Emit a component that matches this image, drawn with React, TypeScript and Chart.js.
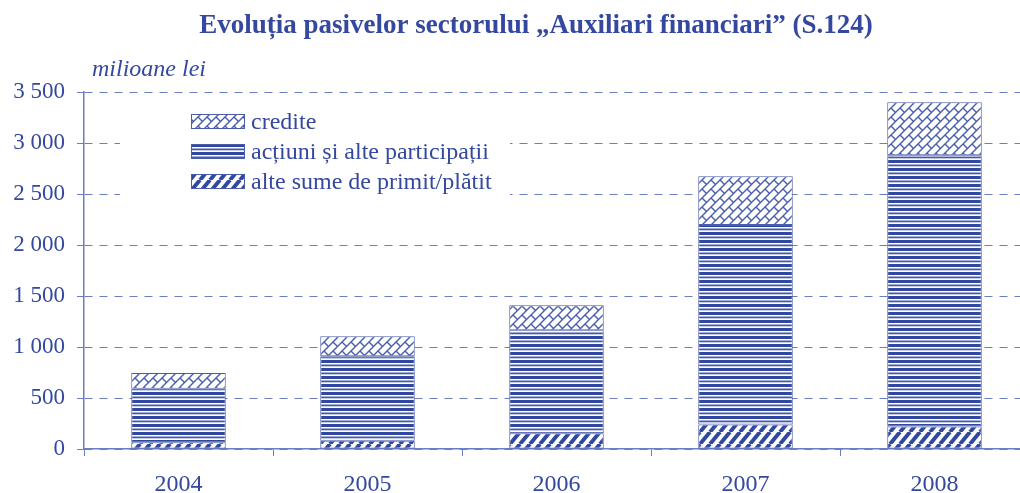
import React, { useEffect, useRef } from 'react';
import { Chart, registerables } from 'chart.js';

Chart.register(...registerables);

const categories = ['2004', '2005', '2006', '2007', '2008'];
const alteSume = [65, 80, 155, 240, 220];
const actiuni = [525, 830, 1010, 1956, 2660];
const credite = [155, 195, 245, 479, 520];
const seriesLabels = ['alte sume de primit/plătit', 'acțiuni și alte participații', 'credite'];
const yTicks = [0, 500, 1000, 1500, 2000, 2500, 3000, 3500];
const titleText = 'Evoluția pasivelor sectorului „Auxiliari financiari” (S.124)';
const unitText = 'milioane lei';

const BLUE = '#3148a0';
const TEXT = '#34489f';
const LINE = '#6d7dc2';
const SERIF = '"Liberation Serif", "Times New Roman", serif';

function makeCanvas(w: number, h: number) {
  const c = document.createElement('canvas');
  c.width = w;
  c.height = h;
  return c;
}

function stripesPattern(ctx: CanvasRenderingContext2D) {
  const c = makeCanvas(8, 8);
  const g = c.getContext('2d')!;
  g.fillStyle = '#ffffff';
  g.fillRect(0, 0, 8, 8);
  g.fillStyle = BLUE;
  g.fillRect(0, 0, 8, 3);
  g.fillStyle = '#4658aa';
  g.fillRect(0, 4.5, 8, 1.8);
  return ctx.createPattern(c, 'repeat')!;
}

function diagPattern(ctx: CanvasRenderingContext2D) {
  const w = 10, h = 12;
  const c = makeCanvas(w, h);
  const g = c.getContext('2d')!;
  g.fillStyle = '#ffffff';
  g.fillRect(0, 0, w, h);
  g.strokeStyle = BLUE;
  g.lineWidth = 4;
  for (let k = -2; k <= 2; k++) {
    g.beginPath();
    g.moveTo(k * w, h);
    g.lineTo(k * w + w, 0);
    g.stroke();
  }
  return ctx.createPattern(c, 'repeat')!;
}

function brickPattern(ctx: CanvasRenderingContext2D) {
  const T = 18;
  const c = makeCanvas(T, T);
  const g = c.getContext('2d')!;
  g.fillStyle = '#ffffff';
  g.fillRect(0, 0, T, T);
  g.strokeStyle = '#4a5eb0';
  g.lineWidth = 1.4;
  for (let k = -6; k <= 8; k++) {
    const cc = (k * T) / 2;
    g.beginPath();
    g.moveTo(cc + 40, -40);
    g.lineTo(-40, cc + 40);
    g.stroke();
  }
  for (let k = -6; k <= 8; k++) {
    const c0 = (k * T) / 2;
    const c1 = ((k + 1) * T) / 2;
    const off = ((k % 2) + 2) % 2 === 0 ? 0 : T / 2;
    for (let m = -4; m <= 4; m++) {
      const d = off + m * T;
      g.beginPath();
      g.moveTo((c0 + d) / 2, (c0 - d) / 2);
      g.lineTo((c1 + d) / 2, (c1 - d) / 2);
      g.stroke();
    }
  }
  return ctx.createPattern(c, 'repeat')!;
}

function fmt(v: number) {
  if (v >= 1000) {
    return `${Math.floor(v / 1000)} ${String(v % 1000).padStart(3, '0')}`;
  }
  return String(v);
}

export default function App() {
  const ref = useRef<HTMLCanvasElement | null>(null);

  useEffect(() => {
    const canvas = ref.current!;
    const ctx = canvas.getContext('2d')!;
    const patterns = [diagPattern(ctx), stripesPattern(ctx), brickPattern(ctx)];
    const values = [alteSume, actiuni, credite];

    const overlay = {
      id: 'overlay',
      afterDraw(chart: any) {
        const c = chart.ctx as CanvasRenderingContext2D;
        c.save();
        c.fillStyle = TEXT;
        c.font = `bold 27px ${SERIF}`;
        c.textAlign = 'center';
        c.textBaseline = 'alphabetic';
        c.fillText(titleText, 536, 33);
        c.font = `italic 24px ${SERIF}`;
        c.textAlign = 'left';
        c.fillText(unitText, 92, 76);
        // legend
        c.fillStyle = '#ffffff';
        c.fillRect(120, 100, 390, 105);
        const ds = chart.data.datasets;
        for (let i = 0; i < ds.length; i++) {
          const d = ds[ds.length - 1 - i];
          const y = 114 + i * 30;
          c.fillStyle = d.backgroundColor;
          c.fillRect(191, y, 54, 15);
          c.strokeStyle = '#4a5cab';
          c.lineWidth = 1;
          c.strokeRect(191.5, y + 0.5, 53, 14);
          c.fillStyle = TEXT;
          c.font = `24px ${SERIF}`;
          c.textAlign = 'left';
          c.textBaseline = 'alphabetic';
          c.fillText(d.label, 251, y + 15);
        }
        c.restore();
      },
    };

    const chart = new Chart(ctx, {
      type: 'bar',
      data: {
        labels: categories,
        datasets: values.map((v, i) => ({
          label: seriesLabels[i],
          data: v,
          backgroundColor: patterns[i] as any,
          borderColor: '#4a5cab',
          borderWidth: 1,
          borderSkipped: false,
          barPercentage: 0.5,
          categoryPercentage: 1,
        })),
      },
      options: {
        responsive: false,
        animation: false,
        layout: { padding: { top: 92, right: 11, bottom: 0, left: 0 } },
        plugins: {
          legend: { display: false },
          title: { display: false },
          tooltip: { enabled: false },
        },
        scales: {
          x: {
            stacked: true,
            offset: true,
            grid: {
              display: true,
              drawOnChartArea: false,
              drawTicks: true,
              tickLength: 7,
              color: LINE,
              offset: true,
            },
            border: { display: true, color: LINE, width: 1.5 },
            ticks: {
              color: TEXT,
              font: { family: SERIF, size: 24 },
              padding: 14,
              maxRotation: 0,
            },
            afterFit(scale: any) {
              scale.height = 44;
            },
          },
          y: {
            stacked: true,
            min: 0,
            max: 3500,
            afterBuildTicks(scale: any) {
              scale.ticks = yTicks.map((v) => ({ value: v }));
            },
            grid: {
              color: LINE,
              lineWidth: 1,
              tickBorderDash: [],
              tickLength: 7,
              drawTicks: true,
            },
            border: { display: true, color: LINE, width: 1.5, dash: [8, 7] },
            ticks: {
              color: TEXT,
              font: { family: SERIF, size: 23 },
              padding: 12,
              callback: (v: any) => fmt(Number(v)),
            },
            afterFit(scale: any) {
              scale.width = 84;
            },
          },
        },
      },
      plugins: [overlay],
    });
    return () => chart.destroy();
  }, []);

  return (
    <div style={{ position: 'fixed', left: 0, top: 0, width: 1020, height: 493, overflow: 'hidden', background: '#fff' }}>
      <canvas ref={ref} width={1040} height={493} style={{ width: 1040, height: 493, display: 'block' }} />
    </div>
  );
}
